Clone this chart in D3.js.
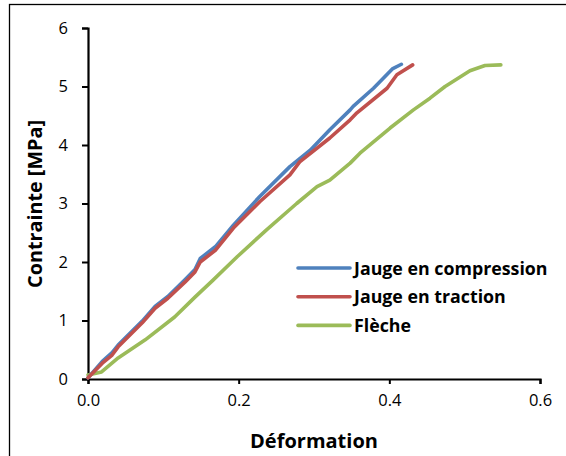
<!DOCTYPE html>
<html><head><meta charset="utf-8">
<script src="https://cdn.jsdelivr.net/npm/d3@7"></script>
<style>body{margin:0;background:#fff;}svg{display:block;}</style>
</head><body>
<svg id="c" width="566" height="456"></svg>
<script>
const seriesNames = ["Jauge en compression", "Jauge en traction", "Flèche"];
const seriesColors = ["#4F81BD", "#C0504D", "#9BBB59"];
const compX = [0, 0.019, 0.032, 0.040, 0.072, 0.089, 0.106, 0.129, 0.142, 0.149, 0.169, 0.193, 0.228, 0.268, 0.295, 0.321, 0.348, 0.352, 0.379, 0.404, 0.416];
const compY = [0.02, 0.30, 0.45, 0.58, 0.99, 1.24, 1.41, 1.70, 1.87, 2.06, 2.26, 2.63, 3.12, 3.63, 3.91, 4.26, 4.60, 4.66, 4.97, 5.30, 5.38];
const tracX = [0, 0.019, 0.032, 0.040, 0.072, 0.089, 0.106, 0.129, 0.142, 0.149, 0.169, 0.193, 0.228, 0.268, 0.281, 0.321, 0.348, 0.357, 0.397, 0.410, 0.431];
const tracY = [0.02, 0.27, 0.41, 0.55, 0.96, 1.21, 1.38, 1.66, 1.83, 2.00, 2.20, 2.58, 3.03, 3.49, 3.71, 4.12, 4.43, 4.55, 4.97, 5.20, 5.37];
const flecX = [0, 0.018, 0.040, 0.076, 0.115, 0.142, 0.166, 0.198, 0.237, 0.277, 0.304, 0.321, 0.348, 0.361, 0.401, 0.432, 0.454, 0.474, 0.507, 0.527, 0.548];
const flecY = [0.07, 0.12, 0.36, 0.67, 1.06, 1.40, 1.69, 2.09, 2.55, 3.00, 3.29, 3.40, 3.69, 3.86, 4.29, 4.60, 4.80, 5.00, 5.27, 5.36, 5.37];
const xTicks = [0, 0.2, 0.4, 0.6];
const yTicks = [0, 1, 2, 3, 4, 5, 6];
const xTitle = "Déformation";
const yTitle = "Contrainte [MPa]";

const svg = d3.select("#c");
const font = "'Open Sans', sans-serif";
svg.append("rect").attr("x", 9.5).attr("y", 4.5).attr("width", 570).attr("height", 470)
  .attr("fill", "#fff").attr("stroke", "#000").attr("stroke-width", 1.3);

const x = d3.scaleLinear().domain([0, 0.6]).range([88, 540]);
const y = d3.scaleLinear().domain([0, 6]).range([379, 28]);

const xAxis = svg.append("g").attr("transform", "translate(0,379)")
  .call(d3.axisBottom(x).tickValues(xTicks).tickFormat(d3.format(".1f")).tickSizeOuter(0).tickSize(5).tickPadding(10));
const yAxis = svg.append("g").attr("transform", "translate(88,0)")
  .call(d3.axisLeft(y).tickValues(yTicks).tickFormat(d3.format("d")).tickSizeOuter(0).tickSize(6).tickPadding(14));
[xAxis, yAxis].forEach(a => {
  a.select(".domain").attr("stroke", "#000").attr("stroke-width", 2.2);
  a.selectAll(".tick line").attr("stroke", "#000").attr("stroke-width", 2);
  a.selectAll("text").attr("font-family", font).attr("font-size", 16.5).attr("fill", "#000");
});

const data = [
  compX.map((v, i) => [v, compY[i]]),
  tracX.map((v, i) => [v, tracY[i]]),
  flecX.map((v, i) => [v, flecY[i]])
];
const line = d3.line().x(d => x(d[0])).y(d => y(d[1]));
[2, 0, 1].forEach(i => {
  svg.append("path").attr("d", line(data[i])).attr("fill", "none")
    .attr("stroke", seriesColors[i]).attr("stroke-width", 3.6)
    .attr("stroke-linejoin", "round").attr("stroke-linecap", "round");
});

svg.append("text").attr("x", 314).attr("y", 448).attr("text-anchor", "middle")
  .attr("font-family", font).attr("font-weight", "bold").attr("font-size", 20).text(xTitle);
svg.append("text").attr("transform", "translate(42,204) rotate(-90)").attr("text-anchor", "middle")
  .attr("font-family", font).attr("font-weight", "bold").attr("font-size", 19.8).text(yTitle);

const lg = svg.append("g");
seriesNames.forEach((n, i) => {
  const ly = 268 + i * 28.7;
  lg.append("line").attr("x1", 298).attr("x2", 350).attr("y1", ly).attr("y2", ly)
    .attr("stroke", seriesColors[i]).attr("stroke-width", 3.6).attr("stroke-linecap", "round");
  lg.append("text").attr("x", 354).attr("y", ly + 6.5).attr("font-family", font)
    .attr("font-weight", "bold").attr("font-size", 17.8).text(n);
});
</script>
</body></html>
